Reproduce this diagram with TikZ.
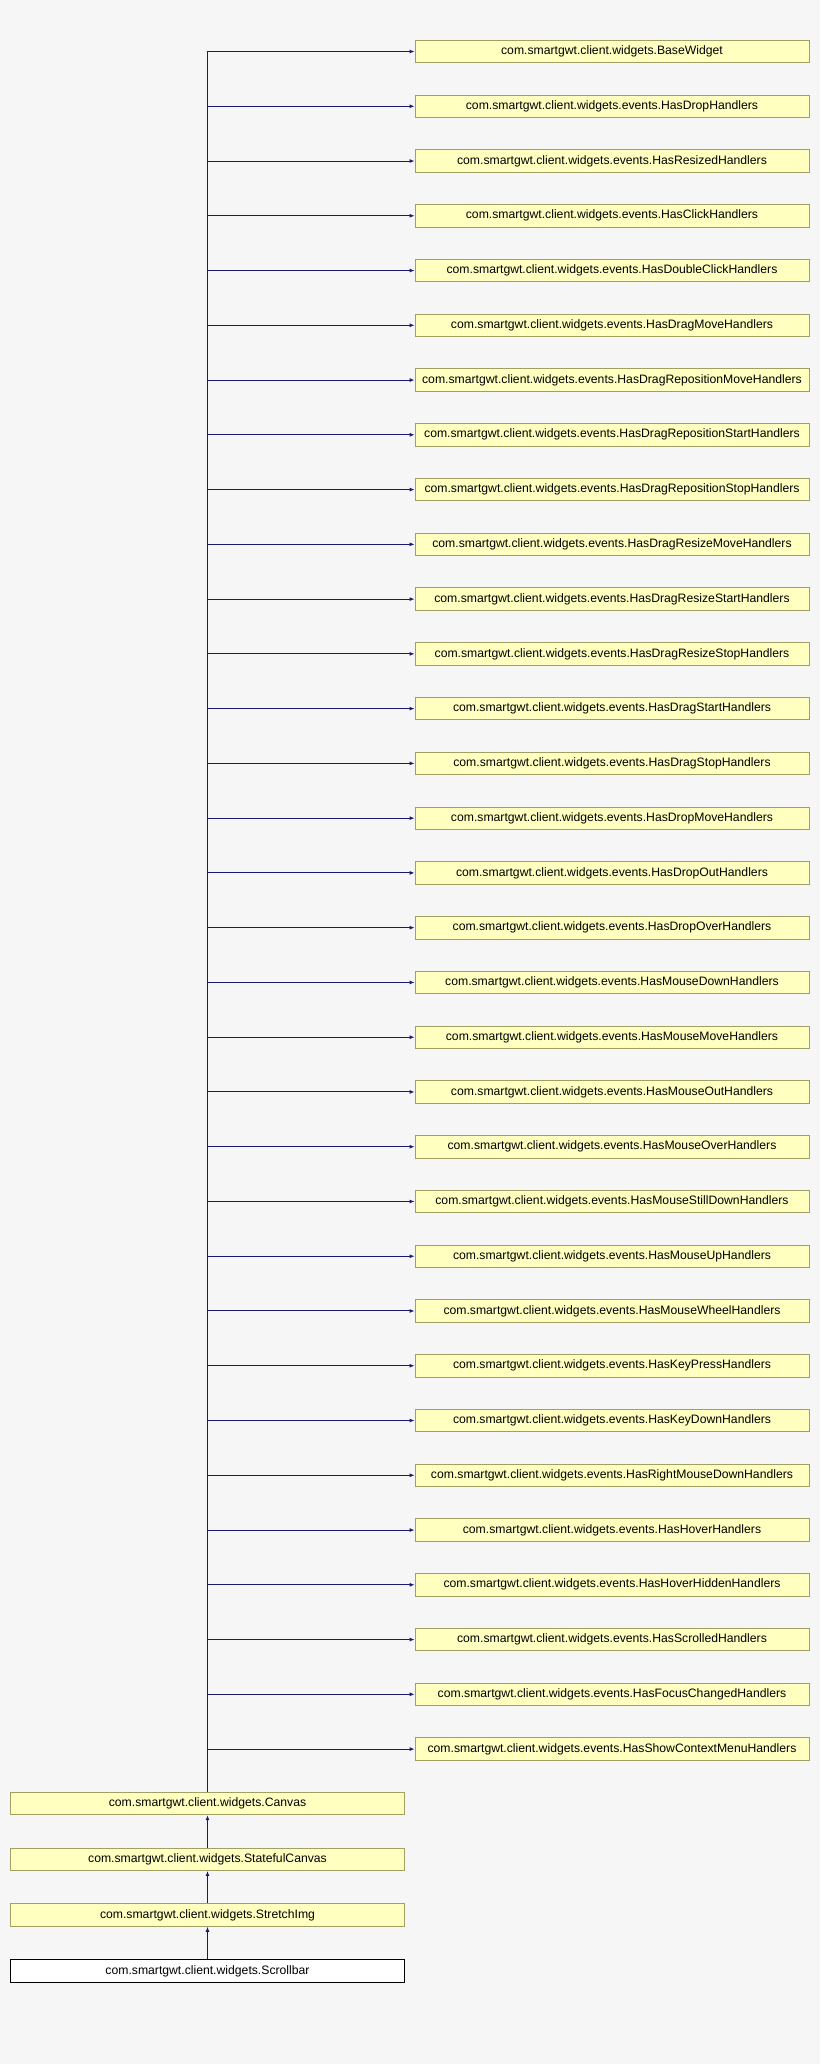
\documentclass[tikz,border=0pt]{standalone}
\usepackage{fontspec}
\setmainfont{Liberation Sans}
\usetikzlibrary{arrows.meta,positioning}
\definecolor{classfill}{HTML}{FFFFC0}
\definecolor{classline}{HTML}{A0A064}
\definecolor{edgeblue}{HTML}{191970}
\definecolor{pagebg}{HTML}{F6F6F6}

\begin{document}
\begin{tikzpicture}[x=1pt,y=-1pt,
  cls/.style={draw=classline,fill=classfill,line width=0.8pt,minimum width=394pt,
    minimum height=22.5pt,inner sep=0pt,font=\fontsize{12.2}{14}\selectfont},
  this/.style={cls,draw=black,fill=white},
  inh/.style={edgeblue,line width=1pt,-{Latex[length=5pt,width=4pt]}}]
  \fill[pagebg] (0,0) rectangle (820,2064);
  \useasboundingbox (0,0) rectangle (820,2064);
% inheritance chain
  \node[cls] (canvas) at (207.5,1803.5) {com.smartgwt.client.widgets.Canvas};
  \node[cls,below=32.5pt of canvas] (stateful) {com.smartgwt.client.widgets.StatefulCanvas};
  \node[cls,below=32.5pt of stateful] (stretch) {com.smartgwt.client.widgets.StretchImg};
  \node[this,below=32.5pt of stretch] (scroll) {com.smartgwt.client.widgets.Scrollbar};
  \draw[inh] (stateful) -- (canvas);
  \draw[inh] (stretch) -- (stateful);
  \draw[inh] (scroll) -- (stretch);
% base classes of Canvas
  \foreach \name [count=\i from 0] in {BaseWidget,events.HasDropHandlers,
    events.HasResizedHandlers,events.HasClickHandlers,events.HasDoubleClickHandlers,
    events.HasDragMoveHandlers,events.HasDragRepositionMoveHandlers,
    events.HasDragRepositionStartHandlers,events.HasDragRepositionStopHandlers,
    events.HasDragResizeMoveHandlers,events.HasDragResizeStartHandlers,
    events.HasDragResizeStopHandlers,events.HasDragStartHandlers,
    events.HasDragStopHandlers,events.HasDropMoveHandlers,events.HasDropOutHandlers,
    events.HasDropOverHandlers,events.HasMouseDownHandlers,events.HasMouseMoveHandlers,
    events.HasMouseOutHandlers,events.HasMouseOverHandlers,
    events.HasMouseStillDownHandlers,events.HasMouseUpHandlers,
    events.HasMouseWheelHandlers,events.HasKeyPressHandlers,events.HasKeyDownHandlers,
    events.HasRightMouseDownHandlers,events.HasHoverHandlers,
    events.HasHoverHiddenHandlers,events.HasScrolledHandlers,
    events.HasFocusChangedHandlers,events.HasShowContextMenuHandlers}
  {
    \node[cls] (base\i) at (612,{51.5+54.76*\i}) {com.smartgwt.client.widgets.\name};
    \draw[inh] (canvas.north) |- (base\i.west);
  }
\end{tikzpicture}
\end{document}
